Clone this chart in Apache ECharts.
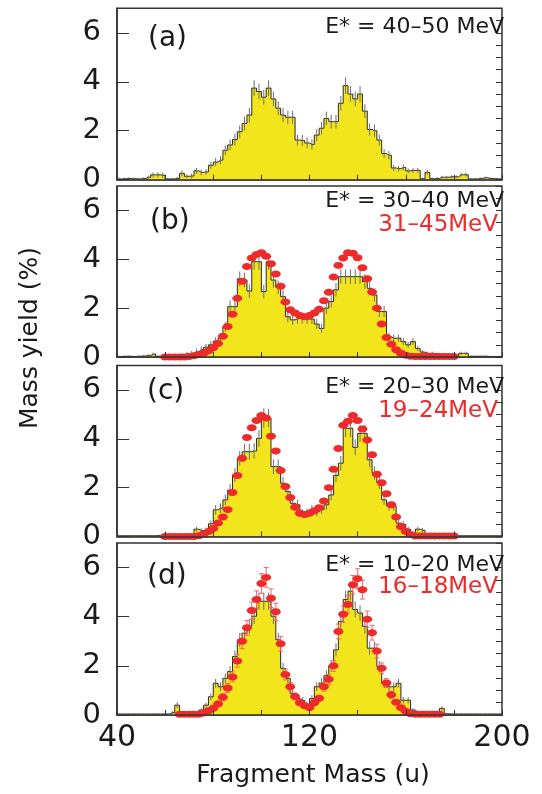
<!DOCTYPE html>
<html><head><meta charset="utf-8">
<script src="https://cdn.jsdelivr.net/npm/echarts@6/dist/echarts.min.js"></script>
<style>html,body{margin:0;padding:0;background:#fff}#c{width:542px;height:794px}</style>
</head><body><div id="c"></div>
<script>
// ---------- data ----------
const binMass = [41,43,45,47,49,51,53,55,57,59,61,63,65,67,69,71,73,75,77,79,81,83,85,87,89,91,93,95,97,99,
 101,103,105,107,109,111,113,115,117,119,121,123,125,127,129,131,133,135,137,139,141,143,145,147,149,151,153,155,157,159,
 161,163,165,167,169,171,173,175,177,179,181,183,185,187,189,191,193,195,197,199];

const yieldA = [0.03,0.04,0.05,0.04,0.03,0.05,0.1,0.2,0.2,0.18,
 0.03,0.03,0.05,0.26,0.14,0.15,0.36,0.3,0.32,0.59,
 0.72,0.8,1.2,1.42,1.64,1.96,2.3,2.64,3.74,3.6,
 3.37,3.74,3.3,2.92,2.64,2.55,2.55,1.62,1.6,1.5,
 1.44,1.82,2.1,2.5,2.37,2.37,3.12,3.84,3.5,3.3,
 3.5,2.8,2.05,2.0,1.62,1.07,1.0,0.48,0.45,0.5,
 0.36,0.38,0.38,0.04,0.3,0.04,0.05,0.1,0.1,0.12,
 0.12,0.2,0.2,0.03,0.03,0.05,0.08,0.05,0.04,0.03];
const errA = [0.05,0.05,0.05,0.05,0.05,0.05,0.07,0.1,0.1,0.1,
 0.05,0.05,0.06,0.12,0.08,0.1,0.12,0.12,0.12,0.15,
 0.16,0.17,0.2,0.22,0.24,0.26,0.28,0.3,0.32,0.32,
 0.3,0.32,0.3,0.28,0.28,0.27,0.27,0.22,0.22,0.22,
 0.21,0.24,0.26,0.28,0.28,0.28,0.3,0.34,0.32,0.3,
 0.32,0.28,0.25,0.25,0.22,0.18,0.17,0.12,0.12,0.12,
 0.1,0.1,0.1,0.05,0.1,0.05,0.05,0.06,0.06,0.06,
 0.06,0.08,0.08,0.04,0.04,0.05,0.05,0.05,0.04,0.04];

const yieldB = [0.02,0.03,0.03,0.02,0.03,0.04,0.06,0.12,0.03,0.03,
 0.03,0.04,0.05,0.08,0.12,0.15,0.22,0.3,0.4,0.5,
 0.65,0.77,1.24,2.06,2.06,3.2,3.15,2.7,3.9,3.9,
 2.68,3.9,3.15,2.85,2.47,1.65,1.52,1.57,1.57,1.55,
 1.55,1.35,1.17,2.0,2.27,2.75,3.29,3.29,3.29,3.29,
 3.29,3.09,2.81,2.54,1.86,1.86,0.83,0.77,0.77,0.63,
 0.5,0.63,0.35,0.2,0.15,0.15,0.12,0.1,0.1,0.05,
 0.05,0.15,0.15,0.03,0.03,0.03,0.03,0.02,0.02,0.02];
const errB = [0.03,0.03,0.03,0.03,0.03,0.04,0.05,0.06,0.04,0.04,
 0.04,0.04,0.05,0.06,0.08,0.1,0.12,0.13,0.14,0.15,
 0.16,0.17,0.2,0.25,0.25,0.3,0.3,0.28,0.33,0.33,
 0.28,0.33,0.3,0.28,0.27,0.22,0.2,0.2,0.2,0.2,
 0.2,0.2,0.18,0.24,0.25,0.27,0.3,0.3,0.3,0.3,
 0.3,0.3,0.28,0.27,0.23,0.23,0.16,0.15,0.15,0.14,
 0.12,0.14,0.1,0.08,0.07,0.07,0.06,0.05,0.05,0.04,
 0.04,0.07,0.07,0.03,0.03,0.03,0.03,0.03,0.03,0.03];

const yieldC = [0.03,0.03,0.03,0.03,0.03,0.03,0.03,0.03,0.04,0.04,
 0.03,0.03,0.03,0.04,0.05,0.08,0.3,0.24,0.26,0.52,
 1.09,1.16,1.5,1.9,2.52,3.2,3.47,3.47,3.5,4.02,
 4.85,4.85,2.86,2.86,2.18,1.84,1.36,1.3,0.95,0.95,
 1.1,1.02,1.1,1.3,1.7,2.5,3.0,4.43,4.43,3.65,
 4.22,4.22,3.14,2.6,2.2,1.5,1.25,1.25,0.55,0.5,
 0.3,0.05,0.3,0.25,0.06,0.08,0.04,0.04,0.04,0.03,
 0.03,0.03,0.03,0.03,0.03,0.03,0.03,0.03,0.03,0.03];
const errC = [0.03,0.03,0.03,0.03,0.03,0.03,0.03,0.03,0.03,0.03,
 0.03,0.03,0.03,0.04,0.05,0.06,0.1,0.1,0.1,0.14,
 0.2,0.2,0.22,0.25,0.28,0.3,0.32,0.32,0.32,0.35,
 0.4,0.38,0.3,0.3,0.26,0.24,0.2,0.2,0.18,0.18,
 0.18,0.18,0.18,0.2,0.22,0.27,0.3,0.36,0.36,0.33,
 0.35,0.35,0.3,0.27,0.25,0.2,0.18,0.18,0.12,0.12,
 0.1,0.04,0.1,0.1,0.05,0.05,0.03,0.03,0.03,0.03,
 0.03,0.03,0.03,0.03,0.03,0.03,0.03,0.03,0.03,0.03];

const yieldD = [0.04,0.04,0.04,0.04,0.04,0.04,0.04,0.04,0.04,0.04,
 0.04,0.1,0.4,0.05,0.05,0.05,0.06,0.2,0.4,0.74,
 1.29,1.15,1.49,1.77,2.38,3.06,3.33,3.61,4.02,4.63,
 4.63,4.63,4.02,3.06,1.9,1.49,0.88,0.67,0.6,0.4,
 0.67,1.15,1.3,1.6,2.0,2.65,3.81,4.7,5.04,4.29,
 4.15,3.61,2.72,2.72,1.97,1.29,1.15,1.15,1.29,0.6,
 0.6,0.2,0.12,0.12,0.12,0.12,0.12,0.27,0.05,0.04,
 0.04,0.04,0.04,0.04,0.04,0.04,0.04,0.04,0.04,0.04];
const errD = [0.03,0.03,0.03,0.03,0.03,0.03,0.03,0.03,0.03,0.03,
 0.03,0.06,0.12,0.04,0.04,0.04,0.04,0.08,0.1,0.14,
 0.18,0.18,0.2,0.22,0.25,0.28,0.3,0.3,0.32,0.35,
 0.35,0.35,0.32,0.28,0.22,0.2,0.15,0.14,0.13,0.11,
 0.14,0.18,0.2,0.22,0.24,0.27,0.33,0.36,0.38,0.33,
 0.32,0.3,0.27,0.27,0.23,0.18,0.18,0.18,0.18,0.13,
 0.13,0.08,0.06,0.06,0.06,0.06,0.06,0.08,0.04,0.03,
 0.03,0.03,0.03,0.03,0.03,0.03,0.03,0.03,0.03,0.03];

const redMassBC = [60,62,64,66,68,70,72,74,76,78,80,82,84,86,88,90,92,94,96,98,
 100,102,104,106,108,110,112,114,116,118,120,122,124,126,128,130,132,134,136,138,
 140,142,144,146,148,150,152,154,156,158,160,162,164,166,168,170,172,174,176,178,180];
const redB = [0,0,0,0,0,0.02,0.05,0.1,0.15,0.25,
 0.38,0.55,0.85,1.25,1.75,2.4,3.1,3.7,4.05,4.2,
 4.27,4.12,3.82,3.4,2.9,2.25,1.93,1.8,1.7,1.65,
 1.7,1.8,1.95,2.3,2.65,3.27,3.75,4.05,4.27,4.25,
 4.06,3.65,3.2,2.66,2.0,1.35,0.8,0.52,0.3,0.15,
 0.07,0.03,0.02,0.02,0.02,0.02,0.02,0.02,0.02,0.02,0.02];
const redC = [0,0,0,0,0,0,0,0.03,0.1,0.2,
 0.33,0.55,0.8,1.1,1.8,2.5,3.2,4.05,4.45,4.75,
 4.95,4.85,4.1,3.5,2.7,2.05,1.6,1.2,0.95,0.9,
 0.95,1.05,1.18,1.45,2.0,2.75,3.6,4.55,4.72,4.95,
 4.75,4.4,3.95,3.35,2.55,2.2,1.75,1.3,0.8,0.4,
 0.2,0.08,0.02,0.02,0.02,0.02,0.02,0.02,0.02,0.02,0.02];
const redMassD = [66,68,70,72,74,76,78,80,82,84,86,88,90,92,94,96,98,100,102,104,
 106,108,110,112,114,116,118,120,122,124,126,128,130,132,134,136,138,140,142,144,
 146,148,150,152,154,156,158,160,162,164,166,168,170,172,174];
const redD = [0.03,0.03,0.03,0.03,0.03,0.08,0.17,0.27,0.45,0.72,
 1.1,1.55,2.2,3.0,3.55,4.25,4.7,5.35,5.6,4.75,
 4.2,2.9,1.65,1.15,0.75,0.5,0.38,0.3,0.5,0.68,
 1.15,1.45,2.0,3.4,4.1,4.5,5.3,5.55,5.1,3.9,
 3.35,2.6,1.9,1.3,0.82,0.52,0.3,0.15,0.05,0.03,
 0.03,0.03,0.03,0.03,0.03];
const redErrD = [0.05,0.05,0.05,0.05,0.05,0.06,0.08,0.1,0.12,0.15,
 0.18,0.2,0.25,0.3,0.3,0.35,0.35,0.4,0.4,0.38,
 0.35,0.3,0.22,0.18,0.14,0.1,0.1,0.1,0.1,0.12,
 0.18,0.2,0.22,0.3,0.33,0.35,0.38,0.4,0.38,0.33,
 0.3,0.28,0.22,0.18,0.14,0.1,0.08,0.06,0.05,0.05,
 0.05,0.05,0.05,0.05,0.05];

const xTickLabels = [40, 120, 200];
const panelLabels = ['(a)', '(b)', '(c)', '(d)'];
const energyLabels = ['E* = 40\u201350 MeV', 'E* = 30\u201340 MeV', 'E* = 20\u201330 MeV', 'E* = 10\u201320 MeV'];
const redLabels = [null, '31\u201345MeV', '19\u201324MeV', '16\u201318MeV'];
const xTitle = 'Fragment Mass (u)';
const yTitle = 'Mass yield (%)';

// ---------- layout ----------
const FONT = 'DejaVu Sans';
const TXT = '#1a1a1a';
const FRAME = '#333';
const panels = [
  {hist: yieldA, err: errA, rm: null, rv: null, re: null, top: 8.3, h: 171.4, lab: [148, 39], en: 27.5, rl: null},
  {hist: yieldB, err: errB, rm: redMassBC, rv: redB, re: null, top: 186, h: 171, lab: [150, 221.7], en: 201.7, rl: 225},
  {hist: yieldC, err: errC, rm: redMassBC, rv: redC, re: null, top: 365.5, h: 171, lab: [147, 392], en: 387.5, rl: 411},
  {hist: yieldD, err: errD, rm: redMassD, rv: redD, re: redErrD, top: 543, h: 172, lab: [147, 577], en: 565, rl: 587.5}
];

const grid = [], xAxis = [], yAxis = [], series = [], graphic = [];

function errRender(color, cap) {
  return function (params, api) {
    const x = api.value(0), y = api.value(1), e = api.value(2);
    const lo = api.coord([x, Math.max(0, y - e)]);
    const hi = api.coord([x, y + e]);
    const children = [{type: 'line', shape: {x1: lo[0], y1: lo[1], x2: hi[0], y2: hi[1]},
      style: {stroke: color, lineWidth: 1}}];
    if (cap) {
      children.push({type: 'line', shape: {x1: hi[0] - cap, y1: hi[1], x2: hi[0] + cap, y2: hi[1]}, style: {stroke: color, lineWidth: 1}});
      children.push({type: 'line', shape: {x1: lo[0] - cap, y1: lo[1], x2: lo[0] + cap, y2: lo[1]}, style: {stroke: color, lineWidth: 1}});
    }
    return {type: 'group', children: children};
  };
}

panels.forEach((p, i) => {
  grid.push({left: 117, width: 385, top: p.top, height: p.h, show: true,
    borderColor: FRAME, borderWidth: 1.5, backgroundColor: 'transparent'});
  xAxis.push({type: 'value', gridIndex: i, min: 40, max: 200, interval: 20, z: 10,
    axisLine: {show: true, lineStyle: {color: FRAME, width: 1.5}},
    axisTick: {show: true, inside: true, length: 5, lineStyle: {color: FRAME, width: 1}},
    axisLabel: {show: i === 3, fontFamily: FONT, fontSize: 30, color: TXT, margin: 8,
      formatter: v => xTickLabels.indexOf(v) >= 0 ? String(v) : ''},
    splitLine: {show: false}});
  yAxis.push({type: 'value', gridIndex: i, min: 0, max: 7, interval: 2, z: 10,
    axisLine: {show: true, lineStyle: {color: FRAME, width: 1.5}},
    axisTick: {show: true, inside: true, length: 12, lineStyle: {color: FRAME, width: 1}},
    axisLabel: {fontFamily: FONT, fontSize: 29, color: TXT, margin: 16, showMaxLabel: false},
    splitLine: {show: false}});
  yAxis.push({type: 'value', gridIndex: i, min: 0, max: 7, interval: 0.5, z: 10,
    axisLine: {show: false},
    axisTick: {show: true, inside: true, length: 6, lineStyle: {color: FRAME, width: 1}},
    axisLabel: {show: false}, splitLine: {show: false}});

  const hd = binMass.map((m, k) => [m, p.hist[k]]);
  hd.unshift([40, p.hist[0]]);
  hd.push([200, p.hist[p.hist.length - 1]]);
  series.push({type: 'line', xAxisIndex: i, yAxisIndex: 2 * i, step: 'middle', data: hd,
    showSymbol: false, symbol: 'none', z: 2, animation: false,
    lineStyle: {color: '#2a2a2a', width: 1}, areaStyle: {color: '#f3e51c', opacity: 1}});
  series.push({type: 'custom', xAxisIndex: i, yAxisIndex: 2 * i, z: 3, clip: true, animation: false,
    renderItem: errRender('#6e6e6e', 0),
    encode: {x: 0, y: 1},
    data: binMass.map((m, k) => [m, p.hist[k], p.err[k]])});
  if (p.rm) {
    if (p.re) {
      series.push({type: 'custom', xAxisIndex: i, yAxisIndex: 2 * i, z: 4, clip: true, animation: false,
        renderItem: errRender('#f2646a', 2.5),
        encode: {x: 0, y: 1},
        data: p.rm.map((m, k) => [m, p.rv[k], p.re[k]])});
    }
    series.push({type: 'scatter', xAxisIndex: i, yAxisIndex: 2 * i, z: 5, animation: false,
      symbol: 'circle', symbolSize: [10, 7],
      itemStyle: {color: '#ee2a2a', opacity: 1},
      data: p.rm.map((m, k) => [m, p.rv[k]])});
  }

  graphic.push({type: 'text', x: p.lab[0], y: p.lab[1], z: 20,
    style: {text: panelLabels[i], fontFamily: FONT, fontSize: 28, fill: TXT, align: 'left', verticalAlign: 'middle'}});
  graphic.push({type: 'text', x: 504, y: p.en, z: 20,
    style: {text: energyLabels[i], fontFamily: FONT, fontSize: 22, fill: TXT, align: 'right', verticalAlign: 'middle'}});
  if (p.rl) {
    graphic.push({type: 'text', x: 498, y: p.rl, z: 20,
      style: {text: redLabels[i], fontFamily: FONT, fontSize: 23, fill: '#ee2a2a', align: 'right', verticalAlign: 'middle'}});
  }
});

graphic.push({type: 'text', x: 313, y: 775, z: 20,
  style: {text: xTitle, fontFamily: FONT, fontSize: 25, fill: TXT, align: 'center', verticalAlign: 'middle'}});
graphic.push({type: 'text', x: 30, y: 338, rotation: Math.PI / 2, z: 20,
  style: {text: yTitle, fontFamily: FONT, fontSize: 25, fill: TXT, align: 'center', verticalAlign: 'middle'}});

const chart = echarts.init(document.getElementById('c'));
chart.setOption({backgroundColor: '#fff', animation: false, grid, xAxis, yAxis, series, graphic});
</script></body></html>
